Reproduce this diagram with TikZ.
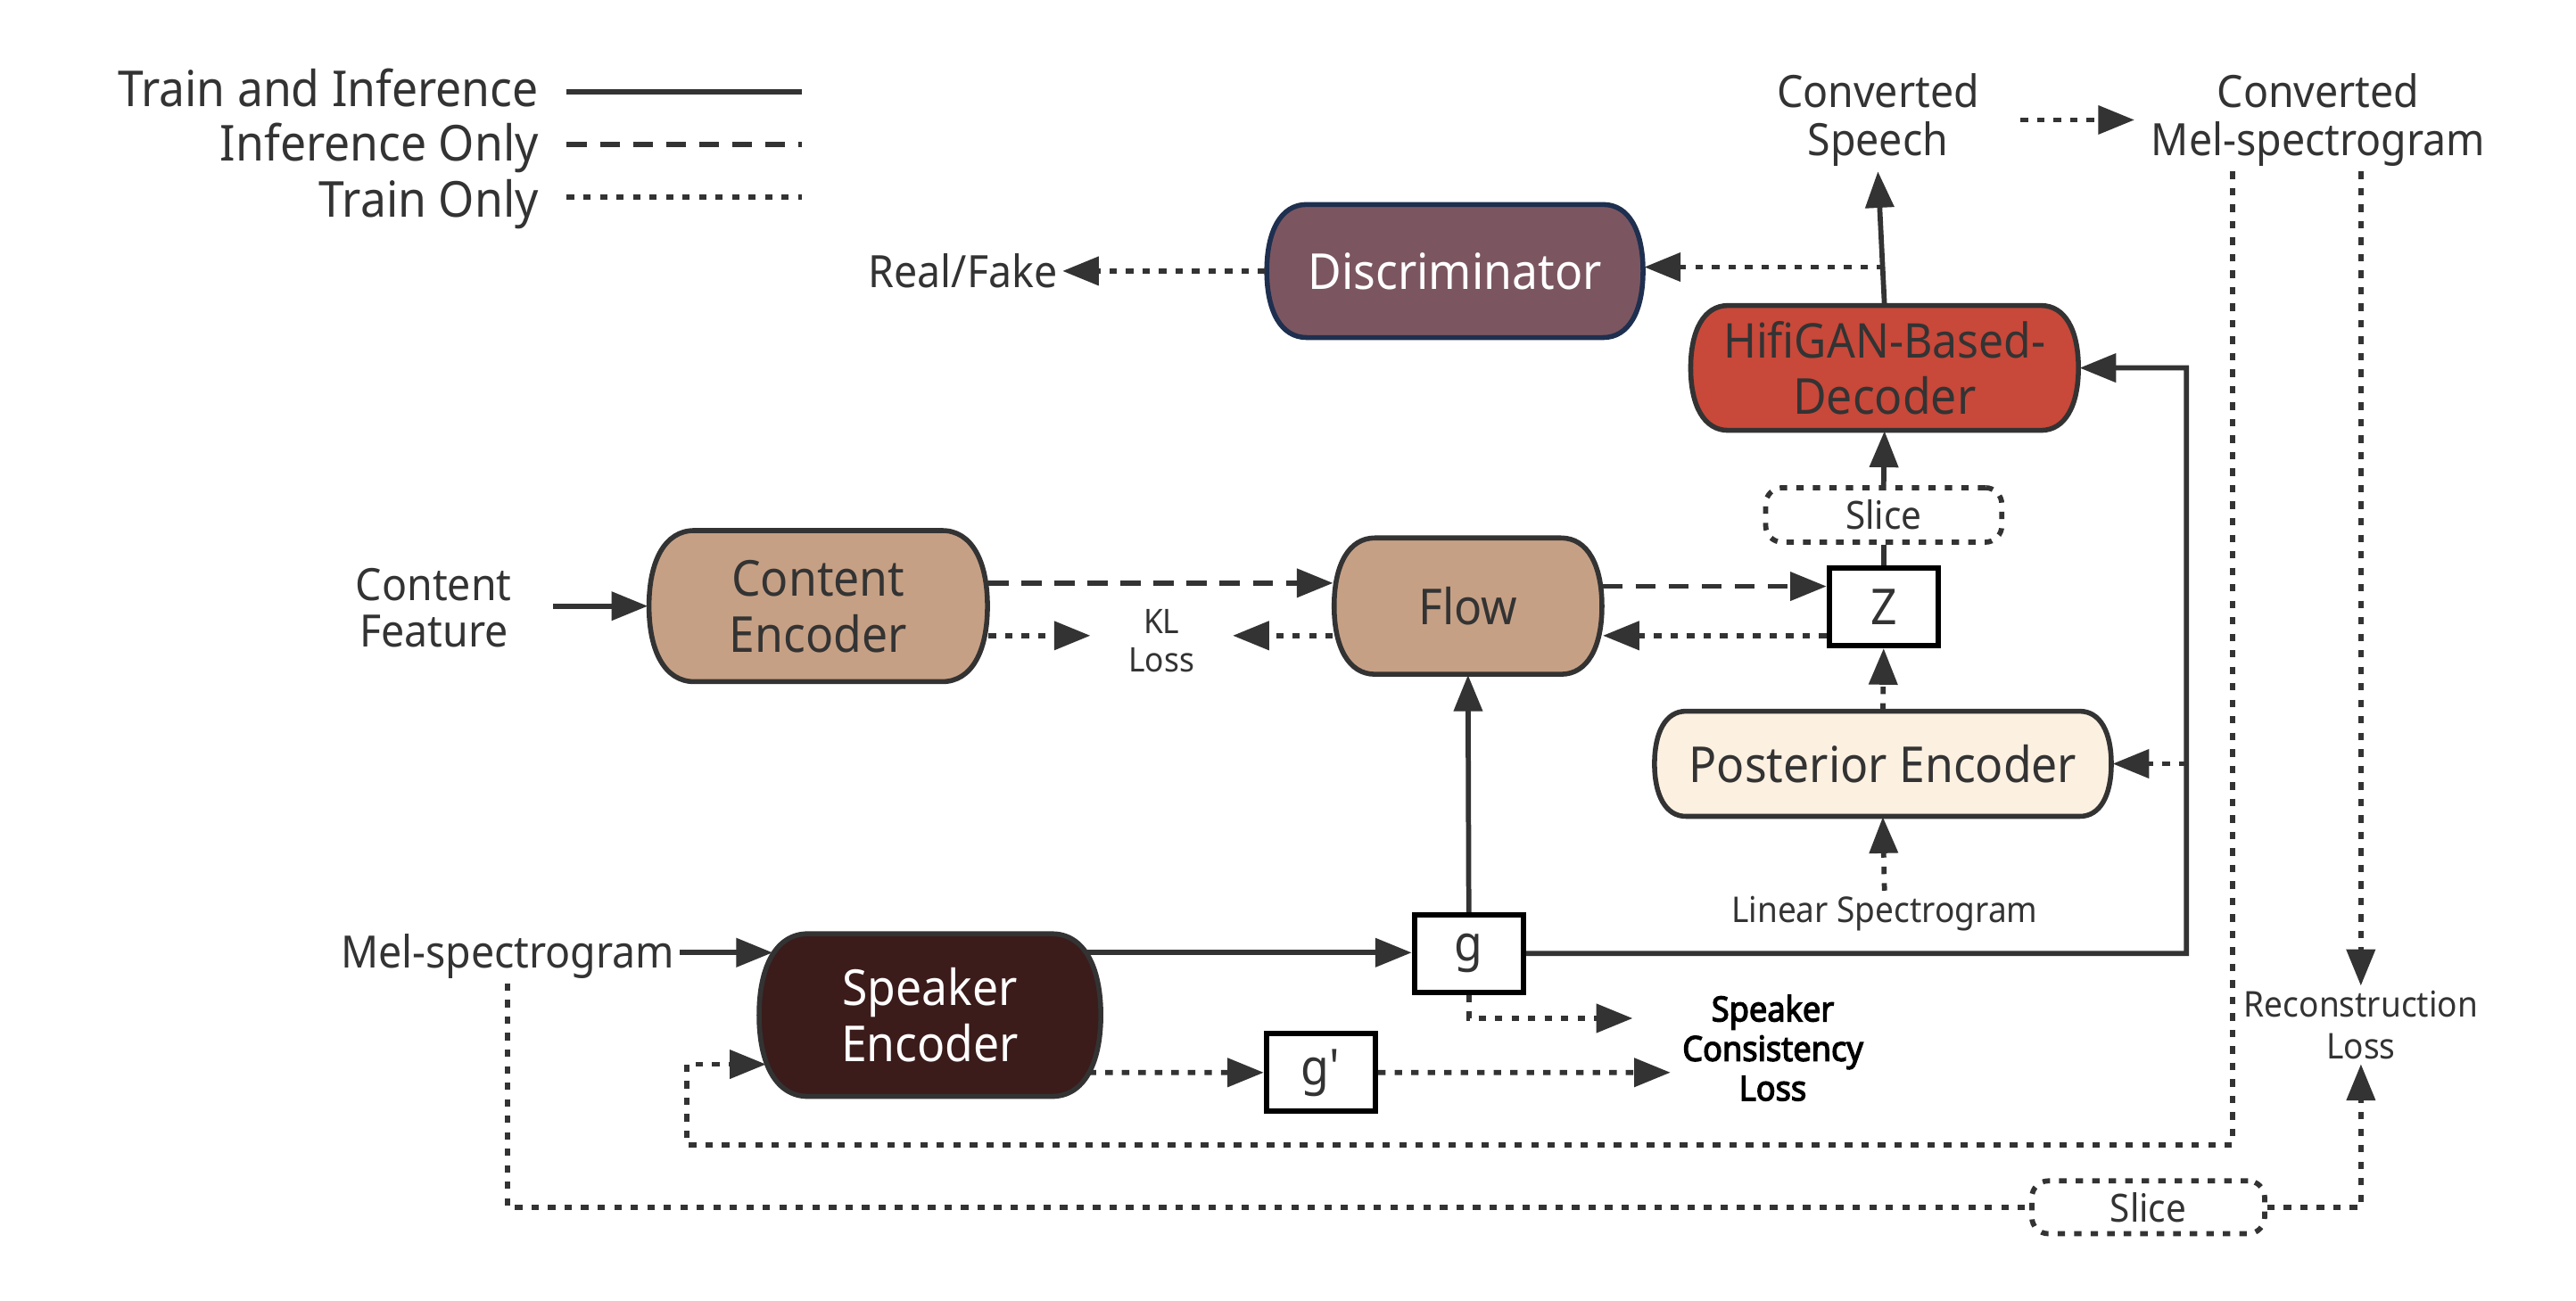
\documentclass[tikz,border=0pt]{standalone}
\usepackage{fontspec}
\setmainfont{Noto Sans}[FakeStretch=0.93, AutoFakeBold=3.2]
\usetikzlibrary{arrows.meta,calc}
\definecolor{ln}{HTML}{333333}
\definecolor{discF}{HTML}{7B5660}
\definecolor{discB}{HTML}{1E2F4F}
\definecolor{decF}{HTML}{C8483A}
\definecolor{tanF}{HTML}{C6A085}
\definecolor{postF}{HTML}{FCF0E1}
\definecolor{spkF}{HTML}{3B1C1B}
\tikzset{
  every node/.style={text=ln, font=\fontsize{30}{34}\selectfont, align=center, inner sep=3pt},
  fbig/.style={font=\fontsize{30}{34}\selectfont},
  fmid/.style={font=\fontsize{27}{29}\selectfont},
  fsmall/.style={font=\fontsize{21.5}{24}\selectfont},
  fboldsmall/.style={font=\fontsize{21}{24}\selectfont\bfseries, text=black},
  solidline/.style={draw=ln, line width=3.1pt},
  dashline/.style={draw=ln, line width=3.1pt, dash pattern=on 12pt off 8pt},
  dotline/.style={draw=ln, line width=3.1pt, dash pattern=on 4.5pt off 5.5pt},
  arrowtip/.style={-{Triangle[length=22pt,width=17pt]}},
  sqbox/.style={draw=black, line width=3.2pt, fill=white, minimum width=66pt, minimum height=47pt, inner sep=0pt, text=ln},
  slicebox/.style={dotline, rounded corners=10pt, minimum width=143pt, minimum height=33pt, inner sep=0pt, font=\fontsize{23.5}{26}\selectfont},
}
% name, cx, cy, w, h, fill, border, text colour, text
\newcommand{\barrelbox}[9]{%
  \pgfmathsetmacro\bL{#2-#4/2}\pgfmathsetmacro\bR{#2+#4/2}%
  \pgfmathsetmacro\bT{#3-#5/2}\pgfmathsetmacro\bB{#3+#5/2}%
  \pgfmathsetmacro\bA{0.3*#5}\pgfmathsetmacro\bC{0.105*#5}\pgfmathsetmacro\bV{0.2*#5}%
  \draw[draw=#7, line width=3pt, fill=#6]
    ({\bL+\bA},\bT) -- ({\bR-\bA},\bT)
    .. controls ({\bR-\bC},\bT) and (\bR,{\bT+\bV}) .. (\bR,#3)
    .. controls (\bR,{\bB-\bV}) and ({\bR-\bC},\bB) .. ({\bR-\bA},\bB)
    -- ({\bL+\bA},\bB)
    .. controls ({\bL+\bC},\bB) and (\bL,{\bB-\bV}) .. (\bL,#3)
    .. controls (\bL,{\bT+\bV}) and ({\bL+\bC},\bT) .. cycle;
  \node[minimum width=#4pt, minimum height=#5pt, inner sep=0pt, text=#8] (#1) at (#2,#3) {#9};
}
\begin{document}
\begin{tikzpicture}[x=1pt,y=-1pt]
\fill[white] (0,0) rectangle (1560,788);
\useasboundingbox (0,0) rectangle (1560,788);
\begin{scope}[xscale=0.995, yscale=0.995]
% legend
\node[fbig, anchor=base east] (lg1) at (331,65) {Train and Inference};
\node[fbig, anchor=base east] (lg2) at (331,98) {Inference Only};
\node[fbig, anchor=base east] (lg3) at (331,132) {Train Only};
\coordinate (la1) at (345,56); \coordinate (lb1) at (488,56);
\coordinate (la2) at (345,88); \coordinate (lb2) at (488,88);
\coordinate (la3) at (345,120); \coordinate (lb3) at (488,120);
\draw[solidline] (la1) -- (lb1);
\draw[dashline] (la2) -- (lb2);
\draw[dotline] (la3) -- (lb3);

% main blocks
\barrelbox{disc}{885.5}{165}{229}{81}{discF}{discB}{white}{Discriminator}
\barrelbox{dec}{1147}{224}{236}{76}{decF}{ln}{ln}{\fontsize{29}{32}\selectfont HifiGAN-Based-\\Decoder}
\barrelbox{ce}{498}{369}{206}{92}{tanF}{ln}{ln}{Content\\Encoder}
\barrelbox{flow}{893.5}{369}{163}{83}{tanF}{ln}{ln}{Flow}
\barrelbox{post}{1146}{465}{278}{64}{postF}{ln}{ln}{Posterior Encoder}
\barrelbox{spk}{566}{618}{208}{99}{spkF}{ln}{white}{Speaker\\Encoder}

% text labels
\node[fmid] (real) at (586,165) {Real/Fake};
\node[fmid] (convsp) at (1143,73) {Converted\\Speech};
\node[fmid] (convmel) at (1411,73) {Converted\\Mel-spectrogram};
\node[font=\fontsize{27}{28}\selectfont] (cf) at (264,370) {Content\\Feature};
\node[font=\fontsize{20.5}{23}\selectfont, inner xsep=23pt] (kl) at (707,390) {KL\\Loss};
\node[fsmall] (lin) at (1147,556) {Linear Spectrogram};
\node[fmid] (mel) at (309,582) {Mel-spectrogram};
\node[fboldsmall] (scl) at (1079,638) {Speaker\\Consistency\\Loss};
\node[font=\fontsize{21.5}{25}\selectfont] (rec) at (1437,624) {Reconstruction\\Loss};

% small boxes
\node[sqbox] (Z) at (1146.5,369.5) {Z};
\node[sqbox] (g) at (894,580.5) {g};
\node[sqbox] (gp) at (804,653) {g\textquotesingle};
\node[slicebox] (sl1) at (1146.5,313.5) {Slice};
\node[slicebox, minimum width=141pt, minimum height=32pt] (sl2) at (1307.5,735) {Slice};

% connectors
\coordinate (cfo) at ([xshift=22pt]cf.east);
\draw[solidline, arrowtip] (cfo |- ce.west) -- (ce.west);
\coordinate (ceA) at ([yshift=14pt]ce.east);
\draw[dashline, arrowtip] (ceA) -- (ceA -| flow.west);
\coordinate (ceB) at ([yshift=-18pt]ce.east);
\draw[dotline, arrowtip] (ceB) -- (ceB -| kl.west);
\coordinate (flB) at ([yshift=-18pt]flow.west);
\draw[dotline, arrowtip] (flB) -- (flB -| kl.east);
\coordinate (flA) at ([yshift=12pt]flow.east);
\draw[dashline, arrowtip] (flA) -- (flA -| Z.west);
\coordinate (zB) at ([yshift=-17.5pt]Z.west);
\draw[dotline, arrowtip] (zB) -- (zB -| flow.east);
\draw[solidline] (Z.north) -- (sl1.south);
\draw[solidline, arrowtip] (sl1.north) -- (dec.south);
\draw[solidline, arrowtip] (dec.north) -- (convsp.south);
\coordinate (tap) at ([yshift=23pt]dec.north);
\draw[dotline, arrowtip] (tap) -- (tap -| disc.east);
\draw[dotline, arrowtip] (disc.west) -- (real.east);
\draw[dotline, arrowtip, shorten <=22pt, shorten >=7pt] (convsp.east) -- (convmel.west);

\coordinate (m1) at ([xshift=-52pt]convmel.south);
\coordinate (loopbl) at (418,697);
\coordinate (spkin2) at ([xshift=5pt,yshift=-30pt]spk.west);
\draw[dotline, arrowtip] (m1) |- (loopbl) |- (spkin2);
\coordinate (m2) at ([xshift=26pt]convmel.south);
\draw[dotline, arrowtip] (m2) -- (m2 |- rec.north);
\draw[dotline] (mel.south) |- (sl2.west);
\draw[dotline, arrowtip] (sl2.east) -| (rec.south);

\coordinate (spkin1) at ([xshift=9pt,yshift=38pt]spk.west);
\draw[solidline, arrowtip] (spkin1 -| mel.east) -- (spkin1);
\coordinate (spkout1) at ([xshift=-9pt,yshift=38pt]spk.east);
\draw[solidline, arrowtip] (spkout1) -- (spkout1 -| g.west);
\draw[solidline, arrowtip] (g.north) -- (flow.south);
\coordinate (rtop) at ([xshift=65pt]dec.east);
\draw[solidline, arrowtip] (g.east) -| (rtop) -- (dec.east);
\draw[dotline, arrowtip] (post.east -| rtop) -- (post.east);
\draw[dotline, arrowtip] (post.north) -- (Z.south);
\draw[dotline, arrowtip] (lin.north) -- (post.south);
\coordinate (sc1) at ([xshift=-27pt,yshift=18pt]scl.west);
\draw[dotline, arrowtip] (g.south) |- (sc1);
\coordinate (spkout2) at ([xshift=-8pt,yshift=-35pt]spk.east);
\draw[dotline, arrowtip] (spkout2) -- (gp.west);
\coordinate (sc2) at ([xshift=-4pt,yshift=-15pt]scl.west);
\draw[dotline, arrowtip] (gp.east) -- (sc2);
\end{scope}
\end{tikzpicture}
\end{document}
